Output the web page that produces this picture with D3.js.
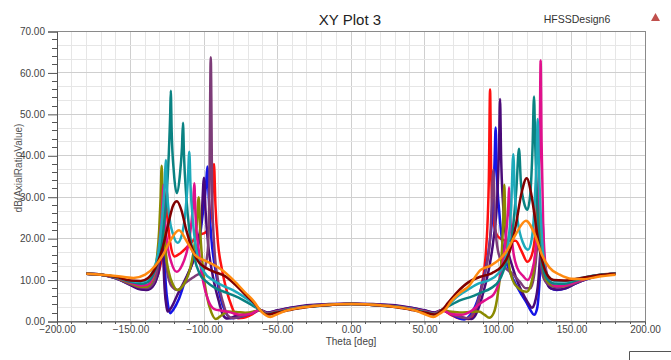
<!DOCTYPE html>
<html><head><meta charset="utf-8">
<script src="https://cdn.jsdelivr.net/npm/d3@7"></script>
<style>
html,body{margin:0;padding:0;background:#fff;}
svg{display:block;font-family:"Liberation Sans",Arial,sans-serif;}
</style></head>
<body>
<svg id="chart" width="671" height="360"></svg>
<script>
// ---------- data (theta [deg], dB) ----------
const title = "XY Plot 3";
const designName = "HFSSDesign6";
const xLabel = "Theta [deg]";
const yLabel = "dB(AxialRatioValue)";
const xTicks = [-200, -150, -100, -50, 0, 50, 100, 150, 200];
const yTicks = [0, 10, 20, 30, 40, 50, 60, 70];

const seriesNames = ["red","blue","indigo","mauve","olive","magenta","teal","cyan","maroon","orange"];
const seriesColors = ["#ff1010","#1414e6","#4a0a78","#7d3c78","#8a8a00","#e0108c","#0a8282","#1eaabb","#800000","#ff8a10"];

const red = [[-180,11.5],[-170,11.3],[-160,10.6],[-150,9.3],[-142,8.4],[-137,8.5],[-133,10],[-130,13],[-127.5,19],[-126.2,26],[-125.4,31.8],[-124.6,25],[-123,19],[-120,15.7],[-116,16.5],[-110,18.5],[-104,20.8],[-99,21.5],[-96,23.5],[-94.5,29],[-93.2,38],[-92.2,28],[-90.5,19],[-88,13],[-85,8],[-81,3.5],[-77,0.8],[-73,0.9],[-68,1.6],[-62,2.8],[-57,1.9],[-50,2.4],[-40,3.1],[-30,3.6],[-15,4.0],[0,4.3],[15,4.0],[30,3.6],[40,3.1],[50,2.4],[57,1.9],[62,2.8],[68,1.6],[74,0.7],[80,0.6],[85,3],[89,9],[92,18],[93.8,35],[94.6,56],[95.4,35],[97,24],[100,20.5],[106,19.5],[112,19.5],[116,17],[120,14.4],[123,16],[125.5,22],[126.8,30],[128,22],[130,14],[133,10],[137,8.6],[142,8.6],[150,9.4],[160,10.6],[170,11.3],[180,11.5]];
const blue = [[-180,11.5],[-170,11.3],[-160,10.4],[-150,8.9],[-143,7.9],[-139,7.7],[-135,8.5],[-132,11],[-130,15],[-128.8,22],[-128,25],[-127.2,18],[-126,9],[-124.5,4],[-123,2],[-121,2.8],[-117,5.5],[-113.4,9.2],[-108,14],[-103,20],[-100.5,27],[-98.6,33],[-97.7,37.4],[-96.8,30],[-95,20],[-92,12],[-89,6],[-85,2],[-82,0.8],[-78,0.9],[-72,1.5],[-66,2.2],[-62,2.8],[-57,2.1],[-50,2.6],[-40,3.3],[-30,3.8],[-15,4.1],[0,4.3],[15,4.1],[30,3.8],[40,3.3],[50,2.6],[57,2.1],[62,2.8],[67,2],[72,1],[77,0.5],[81,1.5],[86,5],[90,10],[94,18],[96.5,28],[97.6,38],[98.4,46.8],[99.2,36],[101,26],[103.6,17.3],[107,13],[111.6,9.3],[116,6.5],[119.5,4.5],[122.5,2.5],[124.5,1.6],[126.5,3],[128.3,10],[129.5,20],[130.3,24],[131.2,16],[133,10],[136,8],[140,7.6],[146,8],[153,9.2],[162,10.4],[171,11.2],[180,11.5]];
const indigo = [[-180,11.5],[-170,11.3],[-160,10.4],[-150,8.8],[-143,7.7],[-139,7.6],[-135,8.4],[-132,10.5],[-130,14],[-129,19],[-128.5,22],[-127.8,16],[-126.8,8],[-125.5,3.5],[-124.7,2.4],[-122,3.5],[-118,6.5],[-113,10],[-108,14],[-104,19],[-101.5,26],[-100,34.7],[-99,27],[-97,18],[-94,11],[-90,5],[-87,1.5],[-84,0.7],[-79,1.2],[-72,1.8],[-66,2.3],[-62,2.8],[-57,2.2],[-50,2.7],[-40,3.4],[-30,3.9],[-15,4.2],[0,4.3],[15,4.2],[30,3.9],[40,3.4],[50,2.7],[57,2.2],[62,2.8],[66,2.2],[72,1.4],[78,0.8],[82,0.6],[86,2.5],[90,7],[94,13],[97,20],[99.5,30],[100.7,42],[101.4,53.7],[102.1,40],[103.5,28],[106,19],[110,13],[114,9],[118,6],[121,4.2],[123,3.3],[125,4.5],[127.5,10],[129,18],[129.8,22],[130.7,15],[132.5,10],[136,8],[140,7.7],[146,8],[153,9.2],[162,10.4],[171,11.2],[180,11.5]];
const mauve = [[-180,11.5],[-170,11.3],[-160,10.5],[-150,9],[-143,8.2],[-139,8.1],[-135,9],[-132,12],[-129.5,18],[-128,24],[-127.2,27],[-126.4,20],[-125,12],[-122,8.5],[-118,7.6],[-113,9.2],[-106,11],[-100,12.5],[-97.5,17],[-96.4,30],[-95.4,63.8],[-94.4,30],[-93,18],[-90.5,10],[-87,4.5],[-84,1.5],[-80,0.8],[-75,1.2],[-68,2],[-62,2.8],[-57,2.0],[-50,2.5],[-40,3.2],[-30,3.7],[-15,4.1],[0,4.3],[15,4.1],[30,3.7],[40,3.2],[50,2.5],[57,2.0],[62,2.8],[67,2],[73,1.2],[79,0.8],[84,2.5],[88,7],[92,13],[95,22],[96.8,36.6],[98,24],[100,17],[104,13.5],[110,11.5],[115,9.5],[119,8],[122,8],[124.5,11],[126.5,18],[127.5,26],[128.5,18],[130.5,11],[134,9],[140,8.3],[147,8.6],[155,9.6],[165,10.8],[180,11.5]];
const olive = [[-180,11.5],[-170,11.3],[-160,10.6],[-150,9.2],[-143,8.4],[-139,8.4],[-135,10],[-132.5,14],[-130.5,22],[-129.5,30],[-128.8,37.6],[-128,28],[-126.5,18],[-124,12],[-121,8.8],[-118,7.6],[-114,8.8],[-110,12],[-107,17],[-105,23],[-103.6,30],[-102.6,22],[-100.5,12],[-98,6],[-95,2.2],[-92,0.6],[-88,1.5],[-84,2.4],[-78,2.3],[-72,2.1],[-66,2.4],[-62,2.8],[-57,1.9],[-50,2.4],[-40,3.1],[-30,3.6],[-15,4.0],[0,4.2],[15,4.0],[30,3.6],[40,3.1],[50,2.4],[57,1.9],[62,2.8],[67,2.4],[74,2.2],[81,2.3],[87,2.4],[91,1.6],[94,0.9],[97,2],[100,7],[102.5,16],[103.6,25],[104.3,33],[105,24],[107,15],[110,10],[114,8],[117,7.3],[119.5,7.2],[122,8.5],[124.5,13],[126.5,22],[127.5,30],[128.5,21],[130.5,13],[133,10],[138,8.6],[144,8.5],[152,9.5],[162,10.6],[171,11.3],[180,11.5]];
const magenta = [[-180,11.5],[-170,11.3],[-160,10.7],[-150,9.4],[-143,8.7],[-139,8.8],[-135,10.5],[-132,14],[-129.5,22],[-128.3,28],[-127.6,33],[-126.8,26],[-125,19],[-122,14],[-118.5,12],[-115,13.5],[-111,18],[-108.5,24],[-107.3,29],[-106.6,33.4],[-105.8,26],[-103.5,17],[-100.5,9.5],[-97,5],[-93,3],[-88,2.6],[-82,2.2],[-75,1.6],[-68,1.9],[-62,2.8],[-57,1.9],[-50,2.4],[-40,3.1],[-30,3.6],[-15,4.0],[0,4.2],[15,4.0],[30,3.6],[40,3.1],[50,2.4],[57,1.9],[62,2.8],[68,1.8],[75,1.6],[82,2.6],[88,4.4],[93,5.5],[97,6.5],[101,10],[104,16],[106,23],[107,28],[107.5,32.4],[108.2,26],[110,18],[113,13],[117,11],[120,10],[123,12],[125.5,17],[127.5,28],[128.4,44],[129,63],[129.6,44],[130.7,24],[132.5,13],[135,9.8],[140,8.5],[147,8.8],[155,9.8],[165,10.9],[180,11.5]];
const teal = [[-180,11.5],[-170,11.3],[-160,10.7],[-150,9.6],[-143,9.1],[-139,9.4],[-135,11],[-131,15],[-128,21],[-125.5,30],[-124,40],[-123,50],[-122.6,55.7],[-122,46],[-120.5,36],[-118.5,31],[-116.5,35],[-115,42],[-114.3,48],[-113.6,40],[-112,30],[-110,22],[-107,16],[-103,11.5],[-98,9.5],[-92,8],[-85,7],[-78,6],[-70,4.5],[-62,2.8],[-57,1.8],[-50,2.3],[-40,3.0],[-30,3.6],[-15,4.0],[0,4.2],[15,4.0],[30,3.6],[40,3.0],[50,2.3],[57,1.8],[62,2.8],[68,4],[75,5.2],[82,6],[88,6.9],[95,8],[101,10],[106,15],[110,22],[112.5,32],[114.3,41.7],[115.5,34],[117.5,29],[120,27],[122,31],[123.5,42],[124.5,54.3],[125.3,43],[126.5,30],[128,20],[130,14],[133,10.5],[138,9.2],[145,9.1],[153,9.9],[163,10.9],[180,11.5]];
const cyan = [[-180,11.5],[-170,11.3],[-160,10.8],[-150,9.8],[-143,9.6],[-139,10],[-135,12],[-131,17],[-128.5,25],[-126.8,33],[-126,39],[-125.2,32],[-123.5,25],[-121,21],[-118,19],[-115,21],[-112.5,27],[-111,34],[-110,41],[-109.2,33],[-107.5,24],[-104.5,16],[-100,12],[-94,10],[-88,8.8],[-80,7.5],[-73,6],[-67,4.5],[-62,2.8],[-57,1.7],[-50,2.2],[-40,3.0],[-30,3.5],[-15,4.0],[0,4.2],[15,4.0],[30,3.5],[40,3.0],[50,2.2],[57,1.7],[62,2.8],[67,4.3],[73,6.2],[80,7.8],[87,9.2],[94,10],[100,11.5],[104,14],[107,19],[109,28],[110.4,40.4],[111.4,31],[113.5,24],[117,19],[120.4,17.3],[123,20],[125,29],[126.3,40],[127,48.9],[127.8,38],[129.3,24],[131.5,14],[134,11],[139,9.8],[146,9.7],[154,10.3],[164,11],[180,11.5]];
const maroon = [[-180,11.5],[-170,11.3],[-160,10.8],[-150,9.9],[-143,9.8],[-138,10.5],[-133,13],[-128,18],[-124,24],[-121,28],[-118.4,29],[-115.5,27],[-112,22],[-108,17.5],[-104,14.5],[-99,13],[-93,12],[-86,11],[-79,9],[-72,6.5],[-66,4.5],[-62,2.8],[-57,1.7],[-50,2.2],[-40,2.9],[-30,3.5],[-15,4.0],[0,4.2],[15,4.0],[30,3.5],[40,2.9],[50,2.2],[57,1.7],[62,2.8],[66,4.5],[72,7],[80,9.5],[88,10.8],[96,11.7],[103,13.5],[108,17],[112,23],[116,31],[119.5,34.6],[122.5,31],[125.5,24],[128,18],[131,13.5],[134,11],[138,10],[145,9.9],[155,10.4],[165,11],[180,11.5]];
const orange = [[-180,11.5],[-170,11.3],[-160,11],[-148,10.5],[-140,11.3],[-133,13.5],[-128,16],[-123,19.5],[-117,22],[-112,19.5],[-106,16],[-100,14.8],[-94,13.8],[-88,12.5],[-80,10],[-72,7],[-66,4.8],[-62,2.8],[-58,1.5],[-55,1.1],[-50,1.8],[-45,2.5],[-35,3.3],[-20,3.9],[0,4.2],[20,3.9],[35,3.3],[45,2.5],[50,1.8],[56,1.1],[60,1.8],[64,2.8],[68,4.8],[74,6.9],[80,8.5],[88,12.4],[95,13.5],[101,15],[106,17],[112,21],[119,24.3],[125,21],[130,16],[135,13],[142,11.3],[150,10.3],[158,10.2],[168,10.8],[180,11.3]];

const seriesData = [red, blue, indigo, mauve, olive, magenta, teal, cyan, maroon, orange];

// ---------- layout ----------
const svg = d3.select("#chart");
const L = 57, R = 645, T = 31.5, B = 321.5;
const x = d3.scaleLinear().domain([-200, 200]).range([L, R]);
const y = d3.scaleLinear().domain([0, 70]).range([B, T]);

// grid
const g = svg.append("g");
const vMinor = d3.range(-200, 201, 10);
g.selectAll("line.vg").data(vMinor).join("line")
  .attr("x1", d => x(d)).attr("x2", d => x(d)).attr("y1", T).attr("y2", B)
  .attr("stroke", d => d % 50 === 0 ? "#cfcfcf" : "#e6e6e6").attr("stroke-width", 1)
  .attr("shape-rendering", "crispEdges");
const hMinor = d3.range(0, 21).map(i => i * 10 / 3);
g.selectAll("line.hg").data(hMinor).join("line")
  .attr("x1", L).attr("x2", R).attr("y1", d => y(d)).attr("y2", d => y(d))
  .attr("stroke", (d, i) => i % 3 === 0 ? "#cfcfcf" : "#e6e6e6").attr("stroke-width", 1)
  .attr("shape-rendering", "crispEdges");

// frame
svg.append("rect").attr("x", L).attr("y", T).attr("width", R - L).attr("height", B - T)
  .attr("fill", "none").attr("stroke", "#8a8a8a").attr("stroke-width", 1).attr("shape-rendering", "crispEdges");

// curves
svg.append("clipPath").attr("id", "clp").append("rect")
  .attr("x", L).attr("y", T - 1).attr("width", R - L).attr("height", B - T + 2);
const line = d3.line().x(d => x(d[0])).y(d => y(d[1])).curve(d3.curveMonotoneX);
svg.append("g").attr("clip-path", "url(#clp)")
  .selectAll("path").data(seriesData).join("path")
  .attr("d", line).attr("fill", "none")
  .attr("stroke", (d, i) => seriesColors[i]).attr("stroke-width", 2.5)
  .attr("stroke-linejoin", "round");

// axes
const yAxis = d3.axisLeft(y).tickValues(yTicks).tickFormat(d3.format(".2f")).tickSize(9).tickPadding(3);
const ya = svg.append("g").attr("transform", `translate(${L},0)`).call(yAxis);
const xAxis = d3.axisBottom(x).tickValues(xTicks).tickFormat(d3.format(".2f")).tickSize(3).tickPadding(1);
const xa = svg.append("g").attr("transform", `translate(0,${B})`).call(xAxis);
[ya, xa].forEach(a => {
  a.select(".domain").attr("stroke", "#555");
  a.selectAll(".tick line").attr("stroke", "#555");
  a.selectAll("text").attr("fill", "#444").attr("font-size", 10).attr("font-family", "Liberation Sans, Arial, sans-serif");
});
// minor ticks
const yMinorVals = d3.range(0, 71, 2).filter(v => v % 10 !== 0);
svg.append("g").selectAll("line").data(yMinorVals).join("line")
  .attr("x1", L - 5).attr("x2", L).attr("y1", d => y(d)).attr("y2", d => y(d))
  .attr("stroke", "#555").attr("shape-rendering", "crispEdges");
const xMinorVals = d3.range(-200, 201, 10).filter(v => v % 50 !== 0);
svg.append("g").selectAll("line").data(xMinorVals).join("line")
  .attr("x1", d => x(d)).attr("x2", d => x(d)).attr("y1", B).attr("y2", B + 2)
  .attr("stroke", "#555").attr("shape-rendering", "crispEdges");

// titles
svg.append("text").attr("x", 350).attr("y", 25).attr("text-anchor", "middle")
  .attr("font-size", 15).attr("fill", "#222").text(title);
svg.append("text").attr("x", 577).attr("y", 23).attr("text-anchor", "middle")
  .attr("font-size", 10.5).attr("fill", "#333").text(designName);
svg.append("path").attr("d", "M651,21 L655.5,13 L660,21 Z").attr("fill", "#c0504d");
svg.append("text").attr("x", 351).attr("y", 345).attr("text-anchor", "middle")
  .attr("font-size", 10).attr("fill", "#444").text(xLabel);
svg.append("text").attr("transform", "translate(22,168) rotate(-90)").attr("text-anchor", "middle")
  .attr("font-size", 10).attr("fill", "#555").text(yLabel);
// partial box bottom-right
svg.append("path").attr("d", "M629.5,360 L629.5,351.5 L671,351.5").attr("fill", "none").attr("stroke", "#555");
</script>
</body></html>
